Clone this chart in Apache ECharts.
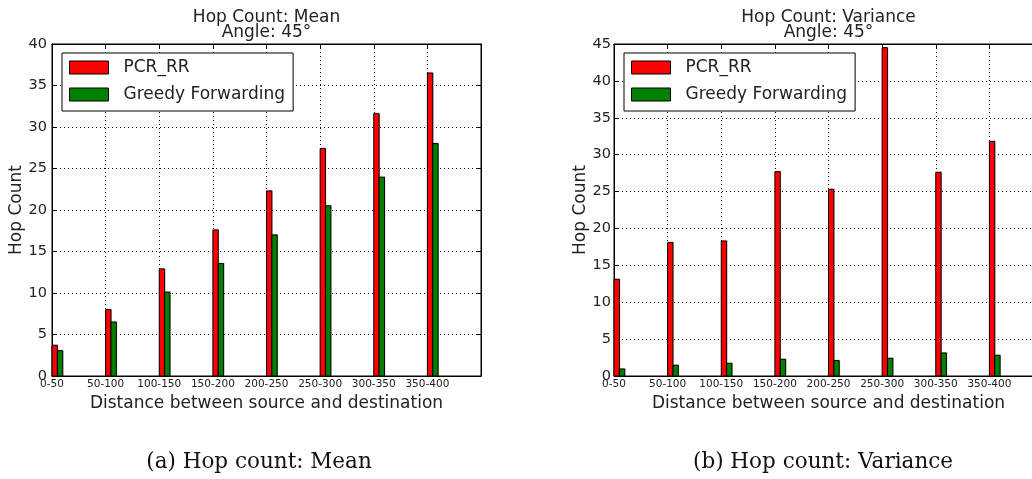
<!DOCTYPE html>
<html>
<head>
<meta charset="utf-8">
<script src="https://cdn.jsdelivr.net/npm/echarts@6/dist/echarts.min.js"></script>
<style>
html,body{margin:0;padding:0;background:#fff;}
#c{width:1032px;height:479px;}
</style>
</head>
<body>
<div id="c"></div>
<script>
// ---- data ----
const categories = ['0-50','50-100','100-150','150-200','200-250','250-300','300-350','350-400'];
const seriesNames = ['PCR_RR','Greedy Forwarding'];
const meanPCR = [3.7, 8.0, 12.9, 17.6, 22.3, 27.4, 31.6, 36.5];
const meanGreedy = [3.05, 6.5, 10.1, 13.55, 17.0, 20.5, 23.95, 28.0];
const varPCR = [13.1, 18.1, 18.3, 27.7, 25.3, 44.5, 27.6, 31.8];
const varGreedy = [0.95, 1.45, 1.72, 2.26, 2.09, 2.4, 3.12, 2.8];
const meanYTicks = {min:0, max:40, interval:5};
const varYTicks = {min:0, max:45, interval:5};
const titles = ['Hop Count: Mean\nAngle: 45°', 'Hop Count: Variance\nAngle: 45°'];
const captions = ['(a) Hop count: Mean', '(b) Hop count: Variance'];
const xName = 'Distance between source and destination';
const yName = 'Hop Count';

// ---- layout ----
const BAR_W = 0.1;
const grids = [
  {left:52, top:44, width:429, height:332},
  {left:614, top:44, width:429, height:332}
];
const SANS = 'DejaVu Sans';
const colors = ['#ff0000', '#008000'];

function makeRender(offset){
  return function(params, api){
    const x = api.value(0), v = api.value(1);
    const p0 = api.coord([x + offset, v]);
    const p1 = api.coord([x + offset + BAR_W, 0]);
    const w = p1[0]-p0[0], h = p1[1]-p0[1];
    return {type:'group', children:[
      {type:'rect', shape:{x:p0[0]+1, y:p0[1]-1, width:w, height:h}, style:{fill:'rgba(0,0,0,0.18)'}},
      {type:'rect', shape:{x:p0[0], y:p0[1], width:w, height:h},
       style:{fill:api.visual('color'), stroke:'#000', lineWidth:1}}
    ]};
  };
}

const xAxes = [], yAxes = [], series = [];
const yCfg = [meanYTicks, varYTicks];
const yLabelMargin = [5, 3];
const yNameGap = [21, 22];
[0,1].forEach(g=>{
  // bottom x
  xAxes.push({type:'value', gridIndex:g, min:0, max:categories.length, interval:1, position:'bottom',
    axisLine:{show:true, onZero:false, lineStyle:{color:'#000', width:1}},
    axisTick:{show:true, inside:true, length:4, lineStyle:{color:'#000'}},
    axisLabel:{show:true, margin:3, color:'#222', fontFamily:SANS, fontSize:10.5, hideOverlap:false,
      formatter:v=> (Number.isInteger(v) && v < categories.length) ? categories[v] : ''},
    splitLine:{show:true, lineStyle:{color:'#000', type:[1,3], width:1}},
    name:xName, nameLocation:'middle', nameGap:12,
    nameTextStyle:{color:'#222', fontFamily:SANS, fontSize:17}
  });
  // top x
  xAxes.push({type:'value', gridIndex:g, min:0, max:categories.length, interval:1, position:'top',
    axisLine:{show:true, onZero:false, lineStyle:{color:'#000'}},
    axisTick:{show:true, inside:true, length:4, lineStyle:{color:'#000'}},
    axisLabel:{show:false}, splitLine:{show:false}
  });
  yAxes.push({type:'value', gridIndex:g, min:yCfg[g].min, max:yCfg[g].max, interval:yCfg[g].interval, position:'left',
    axisLine:{show:true, onZero:false, lineStyle:{color:'#000'}},
    axisTick:{show:true, inside:true, length:4, lineStyle:{color:'#000'}},
    axisLabel:{margin:yLabelMargin[g], color:'#222', fontFamily:SANS, fontSize:14.5},
    splitLine:{show:true, lineStyle:{color:'#000', type:[1,3], width:1}},
    name:yName, nameLocation:'middle', nameGap:yNameGap[g], nameRotate:90,
    nameTextStyle:{color:'#222', fontFamily:SANS, fontSize:17}
  });
  yAxes.push({type:'value', gridIndex:g, min:yCfg[g].min, max:yCfg[g].max, interval:yCfg[g].interval, position:'right',
    axisLine:{show:true, onZero:false, lineStyle:{color:'#000'}},
    axisTick:{show:true, inside:true, length:4, lineStyle:{color:'#000'}},
    axisLabel:{show:false}, splitLine:{show:false}
  });
});

const dataSets = [[meanPCR, meanGreedy],[varPCR, varGreedy]];
[0,1].forEach(g=>{
  dataSets[g].forEach((vals, s)=>{
    series.push({
      type:'custom', name:seriesNames[s], xAxisIndex:g*2, yAxisIndex:g*2,
      itemStyle:{color:colors[s]},
      encode:{x:0, y:1},
      renderItem: makeRender(s*BAR_W),
      data: categories.map((c,i)=>[i, vals[i]]),
      z: 3
    });
  });
});

const legends = [0,1].map(g=>({
  orient:'vertical', left:grids[g].left+10, top:53,
  padding:[6,8,8,7], itemGap:10, itemWidth:39, itemHeight:13,
  backgroundColor:'#fff', borderColor:'#000', borderWidth:1, borderRadius:0,
  textStyle:{color:'#222', fontFamily:SANS, fontSize:17, lineHeight:17, padding:[0,0,0,10]},
  selectedMode:false,
  data: seriesNames.map((n,s)=>({name:n, icon:'rect', itemStyle:{color:colors[s], borderColor:'#000', borderWidth:1}}))
}));

const graphics = [];
[0,1].forEach(g=>{
  const cx = grids[g].left + grids[g].width/2;
  graphics.push({type:'text', x:cx, y:10, z:10, style:{text:titles[g], fill:'#222',
    font:'17px "DejaVu Sans"', lineHeight:15, textAlign:'center', textVerticalAlign:'top'}});
});
const capX = [259, 823];
[0,1].forEach(g=>{
  graphics.push({type:'text', x:capX[g], y:462, z:10, style:{text:captions[g], fill:'#111',
    font:'21.5px "DejaVu Serif"', textAlign:'center', textVerticalAlign:'middle'}});
});

const chart = echarts.init(document.getElementById('c'), null, {renderer:'canvas'});
chart.setOption({
  animation:false,
  backgroundColor:'#fff',
  grid: grids.map(g=>Object.assign({show:true, borderColor:'#000', borderWidth:1, backgroundColor:'transparent',
    containLabel:false, outerBoundsMode:'none'}, g)),
  xAxis:xAxes, yAxis:yAxes, series:series, legend:legends, graphic:graphics
});
</script>
</body>
</html>
